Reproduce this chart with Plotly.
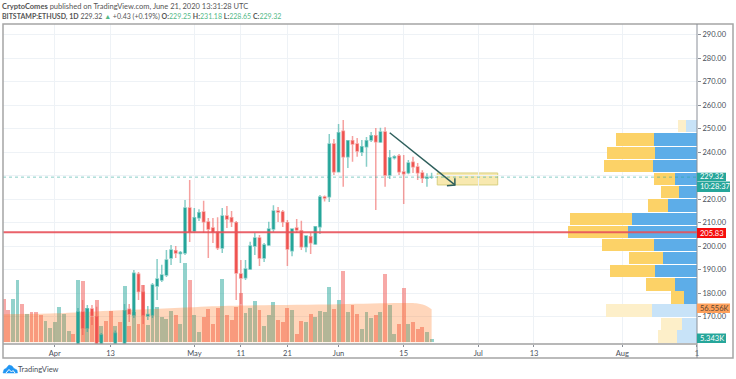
import plotly.graph_objects as go
from datetime import date, timedelta

# ---------- data ----------
vol_start = date(2020, 3, 21)
volumes_k = [74,55,74,106,65,48,52,51,47,36,24,
             34,61,48,20,14,107,105,58,44,72,28,36,54,28,34,96,28,52,32,98,30,47,61,44,39,53,47,32,135,107,
             47,18,44,56,31,59,108,47,38,61,84,50,58,71,55,27,47,68,38,35,59,55,14,37,34,48,44,53,52,94,57,
             73,121,51,63,48,23,51,41,47,52,117,64,15,31,93,32,35,22,26,18,5.343]
vol_dir = ("RRTTRTRRRTT"
           "TTTTRTRTRRTRRTRTRTRRTTTTTTRTTR"
           "TTRRRRTRRRRTTTRTTTRRRTRRTRTTTTR"
           "TRTRRTTTRTRTTRRTRRRTT")

candle_start = date(2020, 4, 6)
opens = [155,171.9,165.1,173.2,169.9,156,155,156,153,157.5,152,173.1,170.6,188,180.3,170.2,170.6,183,185.5,187.7,194.9,198,196.8,197,216.2,
         206.4,212,214.5,210.2,207.7,206,199.2,212.8,212,209.9,188.1,186.5,190.2,200,203.4,194.9,200.4,207.2,214.9,214.5,209.9,198,207.7,206.5,199.7,204,200.9,208.2,220.9,221,243.4,
         231.6,248.9,238,244.8,243.4,240,242.3,245.1,246.9,244.3,248.5,230.2,237.6,238.3,231.5,231.2,235.7,233.6,231.1,228.9,229.25]
highs = [173.6,177,174.9,174.9,174.2,163,157,157.5,164,158,175.3,175.3,189.8,188.9,183.4,174.5,184.3,194.5,192,198.3,200.4,200,197.9,219.6,228.1,
         216.2,215.7,219.3,211.9,211.9,212.3,216.2,217,214.9,210.6,194,194,201.8,205.5,204.7,201.3,210.3,217.4,216.6,215.3,211.1,207.5,211.5,210.8,204.5,205.5,208.5,221.7,221.5,247.7,245.5,
         251.9,253.6,245,246.8,246,245.1,246.4,248.5,250.2,250.3,250.6,240.9,238.6,239.2,238.7,236.6,238,235.3,232.3,231,231.18]
lows = [153,162.1,163.4,166.4,154,154,152,148,152,150,150,167.7,169.4,177,166.8,168.5,169.4,177,184.7,186.8,191.9,194.9,192.8,196.2,201.7,
        205.5,210.6,205.5,194.9,201.3,198.3,197,207.7,208.1,177,175.3,185.5,189.8,196.2,191.5,193.2,200,206,210.2,208.1,191.5,195.7,205.5,198.3,197.4,196.6,200.4,205.1,219,218.7,230.2,
        231.5,225.2,233.2,235.9,238,238.3,233.7,244.3,215.3,243.8,225.2,228.5,236.8,230.2,217.9,230.6,231.1,228.1,226.8,225.2,228.65]
closes = [171.9,165.1,173.2,170.3,157.5,162.1,156,153,162.9,152,172.5,171.1,188.4,180.6,170.6,170.9,183.4,186,187.7,194,198.3,197,197.2,216.2,206,
          212,214.2,210.3,207.2,206,199.3,212.8,211.5,210.3,188.5,186.4,190.2,200,203.4,194.9,200.4,207.2,214.9,214.5,210.3,198.7,207.2,206.8,199.7,204.3,201.4,208.2,220.9,220.4,243.4,231.6,
          248.2,238,244.8,243.4,240.4,242.3,244.8,246.9,244.4,248.5,230.2,237.6,238,231.6,230.8,235.3,233.7,231.2,229,229.25,229.32]

ma_dates = ["2020-03-20","2020-04-01","2020-04-13","2020-05-01","2020-05-11","2020-06-01","2020-06-15","2020-06-18","2020-06-20","2020-06-21"]
ma_values = [48,49.5,54,60,62.6,65,67,66,61.5,56.556]

profile_prices = [251,245.3,239.7,234.1,228.5,222.9,217.2,211.6,206,200.4,194.9,189.3,183.7,178,172.5,166.9,161.4]
profile_up = [11.3,43.3,42.3,44,22.3,18.3,29,64.7,68.7,43.3,33.7,41.7,22.3,13.3,45,15.3,20]
profile_down = [7.7,37.3,48,49.3,21,17.3,20,62.7,60.7,51.7,34.3,45.3,28.3,12.3,46,20.7,18.7]
profile_pale = [1,0,0,0,0,0,0,0,0,0,0,0,0,0,1,1,1]

price_ticks = [170,180,190,200,210,220,230,240,250,260,270,280,290]
price_hidden = [230]
date_ticks = ["2020-04-01","2020-04-13","2020-05-01","2020-05-11","2020-05-21","2020-06-01","2020-06-15","2020-07-01","2020-07-13","2020-08-01","2020-08-17"]
date_labels = ["Apr","13","May","11","21","Jun","15","Jul","13","Aug","1"]

last_price = 229.32
level_price = 205.83
ma_last = 56.556
vol_last = 5.343
arrow_dates = ["2020-06-12","2020-06-26"]
arrow_prices = [248.2,226]
arrow_head_dates = ["2020-06-24 07:00","2020-06-26","2020-06-26"]
arrow_head_prices = [225.7,226,228.9]
zone_dates = ["2020-06-22 05:00","2020-07-05 05:00"]
zone_prices = [226,231.1]

# ---------- styling ----------
TEAL = "#26a69a"; RED = "#ef5350"; TXT = "#4a4f5a"
FONT = "Lato"
TICK = 7.5
L, R, T, B = 3, 697, 24, 344
W, H = 736, 379
def px(x): return (x - L) / (R - L)
def py(y): return (B - y) / (B - T)

vol_dates = [vol_start + timedelta(days=i) for i in range(len(volumes_k))]
candle_dates = [candle_start + timedelta(days=i) for i in range(len(opens))]
vol_colors = ["rgba(38,166,154,0.5)" if d == "T" else "rgba(239,83,80,0.5)" for d in vol_dir]

fig = go.Figure()
fig.add_trace(go.Bar(x=vol_dates, y=volumes_k, marker=dict(color=vol_colors, line_width=0),
                     width=0.84 * 86400000, xaxis="x", yaxis="y", hoverinfo="skip"))
fig.add_trace(go.Scatter(x=ma_dates, y=ma_values, mode="lines", line=dict(width=0, shape="spline"),
                         fill="tozeroy", fillcolor="rgba(255,120,30,0.3)", xaxis="x", yaxis="y", hoverinfo="skip"))
fig.add_trace(go.Candlestick(x=candle_dates, open=opens, high=highs, low=lows, close=closes,
                             increasing=dict(line=dict(color="rgba(38,166,154,0.55)", width=1.5), fillcolor=TEAL),
                             decreasing=dict(line=dict(color="rgba(239,83,80,0.55)", width=1.5), fillcolor=RED),
                             xaxis="x", yaxis="y2", hoverinfo="skip"))
fig.add_trace(go.Bar(y=profile_prices, x=profile_up, orientation="h", width=5.3,
                     marker=dict(color=["#c8e3f8" if p else "#5dade8" for p in profile_pale], line_width=0),
                     xaxis="x2", yaxis="y2", hoverinfo="skip"))
fig.add_trace(go.Bar(y=profile_prices, x=profile_down, orientation="h", width=5.3,
                     marker=dict(color=["#fdefc9" if p else "#fcd267" for p in profile_pale], line_width=0),
                     xaxis="x2", yaxis="y2", hoverinfo="skip"))
fig.add_trace(go.Scatter(x=arrow_dates, y=arrow_prices, mode="lines", line=dict(color="#2e5f5c", width=1.5),
                         xaxis="x", yaxis="y2", hoverinfo="skip"))
fig.add_trace(go.Scatter(x=arrow_head_dates, y=arrow_head_prices, mode="lines", line=dict(color="#2e5f5c", width=1.5),
                         xaxis="x", yaxis="y2", hoverinfo="skip"))

shapes = [
    dict(type="rect", xref="x", yref="y2", x0=zone_dates[0], x1=zone_dates[1], y0=zone_prices[0], y1=zone_prices[1],
         fillcolor="#f8e9b0", line=dict(color="#d8d080", width=1), layer="below"),
    dict(type="line", xref="paper", yref="y2", x0=0, x1=1, y0=last_price, y1=last_price,
         line=dict(color=TEAL, width=1, dash="dot"), opacity=0.55, layer="above"),
    dict(type="line", xref="paper", yref="y2", x0=0, x1=1, y0=level_price, y1=level_price,
         line=dict(color="#e8525a", width=2), opacity=0.9, layer="above"),
    # frame
    dict(type="rect", xref="paper", yref="paper", x0=0, x1=px(733), y0=py(358), y1=1,
         line=dict(color="#a5a5a5", width=1.5), layer="above"),
    dict(type="line", xref="paper", yref="paper", x0=1, x1=1, y0=py(358), y1=1,
         line=dict(color="#8a8f98", width=1), layer="above"),
    dict(type="line", xref="paper", yref="paper", x0=0, x1=1, y0=0, y1=0,
         line=dict(color="#a0a0a0", width=1.5), layer="above"),
]
annotations = []
def text(x, y, s, size=TICK, color=TXT, anchor="left"):
    annotations.append(dict(xref="paper", yref="paper", x=px(x), y=py(y), text=s, showarrow=False,
                            xanchor=anchor, yanchor="middle", font=dict(family=FONT, size=size, color=color),
                            borderpad=0, borderwidth=0))
def tag(y0, y1, xend, color, s, tcolor="#ffffff"):
    shapes.append(dict(type="rect", xref="paper", yref="paper", x0=1, x1=px(xend), y0=py(y1), y1=py(y0),
                       fillcolor=color, line_width=0, layer="above"))
    text(700, (y0 + y1) / 2, s, color=tcolor)

tag(172.7, 181, 726, TEAL, f"{last_price:.2f}")
tag(181.5, 192, 730, TEAL, "10:28:37")
tag(228, 238, 726, "#f50d0d", f"{level_price:.2f}")
tag(303.5, 313, 730, "#ffa15c", f"{ma_last:.3f}K", "#5a4632")
tag(333.5, 343, 726, TEAL, f"{vol_last:.3f}K")

up = "#53b987"
text(2, 7, "<b>CryptoComes</b> published on TradingView.com, June 21, 2020 13:31:28 UTC", size=7.5, color="#555555")
text(2, 16.5, "<b>BITSTAMP:ETHUSD, 1D</b> 229.32 "
     f"<span style='color:{up}'>▲</span> +0.43 (+0.19%) "
     f"<b>O:</b><span style='color:{up}'>229.25</span> <b>H:</b><span style='color:{up}'>231.18</span> "
     f"<b>L:</b><span style='color:{up}'>228.65</span> <b>C:</b><span style='color:{up}'>229.32</span>", size=7, color="#555555")
text(18, 369, "TradingView", size=7.5, color="#4a4f5a")

def path(points, close=True):
    s = " ".join(("M" if i == 0 else "L") + f"{px(a):.5f},{py(b):.5f}" for i, (a, b) in enumerate(points))
    return s + (" Z" if close else "")
shapes.append(dict(type="path", xref="paper", yref="paper",
                   path=path([(3,373),(4,369.5),(6,368.5),(9,365),(12,366),(14,368.5),(17,370),(17.5,373)]),
                   fillcolor="#2196f3", line=dict(color="#2196f3", width=0.5), layer="above"))
shapes.append(dict(type="path", xref="paper", yref="paper",
                   path=path([(6,373),(9,369.5),(11.5,372),(13,370.5),(15,373)], close=False),
                   fillcolor="rgba(0,0,0,0)", line=dict(color="#ffffff", width=1), layer="above"))

fig.update_layout(
    width=W, height=H, autosize=False,
    margin=dict(l=L, r=W - R, t=T, b=H - B, pad=0),
    paper_bgcolor="white", plot_bgcolor="white", showlegend=False, barmode="stack", bargap=0,
    font=dict(family=FONT, size=TICK, color=TXT),
    hovermode=False,
    xaxis=dict(type="date", range=["2020-03-20 21:00", "2020-08-17 01:00"], tickmode="array",
               tickvals=date_ticks, ticktext=date_labels, showgrid=True, gridcolor="#eef2f6", gridwidth=1,
               ticks="outside", ticklen=2, tickcolor="#8a8f98", zeroline=False, showline=False,
               rangeslider=dict(visible=False), tickfont=dict(family=FONT, size=TICK, color=TXT)),
    xaxis2=dict(overlaying="x", range=[694, 0], visible=False, anchor="y2"),
    yaxis=dict(range=[-2.9, 543], visible=False, showgrid=False, zeroline=False),
    yaxis2=dict(overlaying="y", side="right", anchor="x", range=[158.3, 294.5], tickmode="array",
                tickvals=price_ticks, ticktext=["" if p in price_hidden else f"{p:.2f}" for p in price_ticks],
                showgrid=True, gridcolor="#eef2f6", gridwidth=1, zeroline=False, showline=False,
                ticks="outside", ticklen=3, tickcolor="#8a8f98", tickfont=dict(family=FONT, size=TICK, color=TXT)),
    shapes=shapes, annotations=annotations,
)
fig.write_html("out.html", post_script="document.body.style.margin='0';", config=dict(displayModeBar=False))
